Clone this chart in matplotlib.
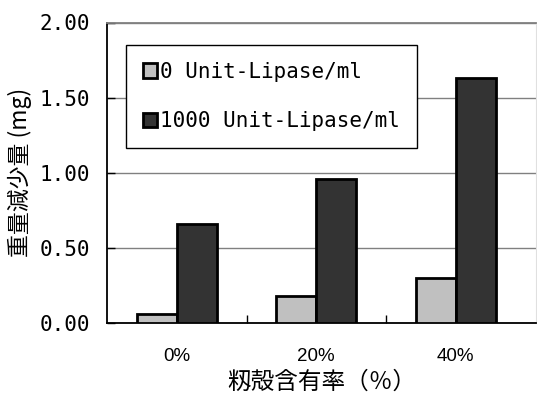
import numpy as np
import matplotlib
matplotlib.use("Agg")
import matplotlib.pyplot as plt
from matplotlib.ticker import FixedLocator

# data
categories = ['0%', '20%', '40%']
series_names = ['0 Unit-Lipase/ml', '1000 Unit-Lipase/ml']
no_lipase = [0.06, 0.18, 0.30]
lipase_1000 = [0.66, 0.96, 1.63]
yticks = [0.0, 0.5, 1.0, 1.5, 2.0]

plt.rcParams['font.family'] = ['Noto Sans CJK JP', 'DejaVu Sans']

fig = plt.figure(figsize=(5.37, 3.99), dpi=100)
ax = fig.add_axes([107/537, 1-323/399, 429/537, 300.5/399])

x = np.arange(len(categories))
w = 0.287
ax.bar(x - w/2, no_lipase, w, color='#c0c0c0', edgecolor='black', linewidth=2,
       label=series_names[0], zorder=3)
ax.bar(x + w/2, lipase_1000, w, color='#333333', edgecolor='black', linewidth=2,
       label=series_names[1], zorder=3)

ax.set_xlim(-0.5, -0.5 + 429/139.5)
ax.set_ylim(0, 2.0)

# y axis: ticks inside, mono font labels
ax.set_yticks(yticks)
ax.set_yticklabels(['%.2f' % v for v in yticks], family='DejaVu Sans Mono', fontsize=15)
ax.tick_params(axis='y', direction='in', length=6, width=1, pad=12)
ax.grid(axis='y', color='#808080', linewidth=1, zorder=0)

# x axis: marks at boundaries, labels at centres
ax.xaxis.set_major_locator(FixedLocator([0.5, 1.5]))
ax.xaxis.set_major_formatter(plt.NullFormatter())
ax.xaxis.set_minor_locator(FixedLocator(x))
ax.set_xticklabels(categories, minor=True, family='Liberation Sans', fontsize=13.5)
ax.tick_params(axis='x', which='major', direction='in', length=6, width=1)
ax.tick_params(axis='x', which='minor', length=0, pad=18)

for s in ['left', 'bottom']:
    ax.spines[s].set_color('black')
    ax.spines[s].set_linewidth(1.3)
ax.spines['top'].set_color('#808080')
ax.spines['top'].set_linewidth(1.3)
ax.spines['right'].set_color('#e0e0e0')

ax.set_xlabel('籾殻含有率（％）', fontsize=17, labelpad=4)
ax.set_ylabel('重量減少量 (mg)', fontsize=16.5, labelpad=6)

leg = ax.legend(loc='upper left', bbox_to_anchor=(0.044, 0.925), borderaxespad=0,
                fancybox=False, framealpha=1, edgecolor='black', borderpad=0.8,
                labelspacing=1.43, handlelength=0.7, handleheight=0.7, handletextpad=0.15,
                prop={'family': 'DejaVu Sans Mono', 'size': 15})
leg.get_frame().set_linewidth(1)
leg.set_zorder(5)

fig.savefig('out.png', dpi=100)
